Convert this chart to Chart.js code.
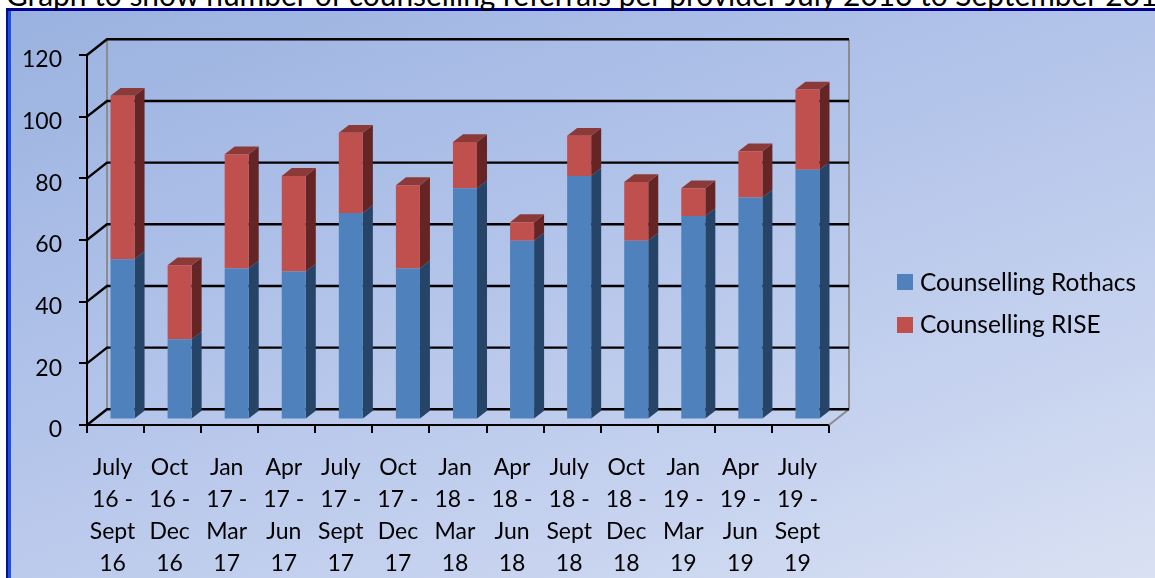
<!DOCTYPE html>
<html>
<head>
<meta charset="utf-8">
<script src="https://cdn.jsdelivr.net/npm/chart.js@4/dist/chart.umd.min.js"></script>
<style>
html,body{margin:0;padding:0;width:1155px;height:578px;overflow:hidden;background:#fff;font-family:Lato,sans-serif;}
#box{position:absolute;left:6px;top:8px;width:1200px;height:620px;
  background:linear-gradient(160deg,#9ab2e0 0%,#b3c4ea 40%,#c7d3ef 70%,#dfe5f4 100%);
  border-top:3px solid #00008b;border-left:2px solid #00128c;box-shadow:inset 3px 0 0 #1f4ee4;}
#title{position:absolute;left:6px;top:-21px;font-size:29.9px;line-height:30px;white-space:nowrap;color:#000;}
canvas{position:absolute;left:0;top:0;}
.lg{position:absolute;left:920px;font-size:24.5px;line-height:28px;color:#000;white-space:nowrap;}
.sw{position:absolute;left:897px;width:16px;height:16px;}
</style>
</head>
<body>
<div id="box"></div>
<div id="title">Graph to show number of counselling referrals per provider July 2016 to September 2019</div>
<canvas id="c" width="1155" height="578"></canvas>
<div class="sw" style="top:274px;background:#4F81BD"></div>
<div class="lg" style="top:268px">Counselling Rothacs</div>
<div class="sw" style="top:317px;background:#C0504D"></div>
<div class="lg" style="top:310px">Counselling RISE</div>
<script>
const categories = [
  ["July","16 -","Sept","16"],["Oct","16 -","Dec","16"],["Jan","17 -","Mar","17"],
  ["Apr","17 -","Jun","17"],["July","17 -","Sept","17"],["Oct","17 -","Dec","17"],
  ["Jan","18 -","Mar","18"],["Apr","18 -","Jun","18"],["July","18 -","Sept","18"],
  ["Oct","18 -","Dec","18"],["Jan","19 -","Mar","19"],["Apr","19 -","Jun","19"],
  ["July","19 -","Sept","19"]
];
const seriesNames = ["Counselling Rothacs","Counselling RISE"];
const rothacs = [52,26,49,48,67,49,75,58,79,58,66,72,81];
const rise    = [53,24,37,31,26,27,15,6,13,19,9,15,26];
const yTicks  = [0,20,40,60,80,100,120];

const frontColors = ["#4F81BD","#C0504D"];
const sideColors  = ["#254468","#652524"];
const topColors   = ["#3a5f8f","#8b3a38"];

const DX = 20, DY = 15.7;      // full depth of the floor
const FRONT = 0.35, DEPTH = 0.5;

const threeD = {
  id:'threeD',
  beforeDatasetsDraw(chart){
    const {ctx, chartArea:a, scales:{x, y}} = chart;
    ctx.save();
    ctx.lineCap = 'butt';
    const y0 = y.getPixelForValue(0), yTop = y.getPixelForValue(120);
    ctx.strokeStyle = '#8c8c8c'; ctx.lineWidth = 2;
    ctx.beginPath();
    ctx.moveTo(a.left+DX, y0-DY); ctx.lineTo(a.left+DX, yTop-DY);
    ctx.moveTo(a.right+DX, y0-DY); ctx.lineTo(a.right+DX, yTop-DY);
    ctx.moveTo(a.right, y0); ctx.lineTo(a.right+DX, y0-DY);
    ctx.stroke();
    ctx.strokeStyle = '#000'; ctx.lineWidth = 2.4;
    ctx.beginPath();
    yTicks.forEach(v => {
      const py = y.getPixelForValue(v);
      ctx.moveTo(a.left, py); ctx.lineTo(a.left+DX, py-DY); ctx.lineTo(a.right+DX, py-DY);
    });
    ctx.stroke();
    ctx.restore();

    ctx.save();
    ctx.translate(DX*FRONT, -DY*FRONT);
    const n = chart.data.datasets.length;
    const dx = DX*DEPTH, dy = DY*DEPTH;
    chart.data.datasets.forEach((ds, di) => {
      const meta = chart.getDatasetMeta(di);
      meta.data.forEach(bar => {
        const p = bar.getProps(['x','y','base','width'], true);
        const l = p.x - p.width/2, r = p.x + p.width/2;
        ctx.fillStyle = sideColors[di];
        ctx.beginPath();
        ctx.moveTo(r, p.y); ctx.lineTo(r+dx, p.y-dy); ctx.lineTo(r+dx, p.base-dy); ctx.lineTo(r, p.base);
        ctx.closePath(); ctx.fill();
        if (di === n-1) {
          ctx.fillStyle = topColors[di];
          ctx.beginPath();
          ctx.moveTo(l, p.y); ctx.lineTo(l+dx, p.y-dy); ctx.lineTo(r+dx, p.y-dy); ctx.lineTo(r, p.y);
          ctx.closePath(); ctx.fill();
        }
      });
    });
  },
  afterDatasetsDraw(chart){ chart.ctx.restore(); }
};

Chart.defaults.font.family = 'Lato, sans-serif';
Chart.defaults.color = '#000';

new Chart(document.getElementById('c'), {
  type:'bar',
  data:{
    labels: categories,
    datasets:[
      {label:seriesNames[0], data:rothacs, backgroundColor:frontColors[0], borderWidth:0},
      {label:seriesNames[1], data:rise, backgroundColor:frontColors[1], borderWidth:0}
    ]
  },
  options:{
    responsive:false, animation:false,
    devicePixelRatio:1,
    layout:{padding:{left:0, top:55, right:326, bottom:0}},
    plugins:{legend:{display:false}, title:{display:false}, tooltip:{enabled:false}},
    datasets:{bar:{categoryPercentage:1, barPercentage:24/57}},
    scales:{
      x:{
        stacked:true,
        grid:{drawOnChartArea:false, drawTicks:true, tickLength:8, color:'#000', lineWidth:2},
        border:{display:true, color:'#000', width:2},
        ticks:{font:{size:23, lineHeight:1.4}, color:'#000', padding:18, labelOffset:-3, maxRotation:0, autoSkip:false},
        afterFit(s){ s.height = 578-425; }
      },
      y:{
        stacked:true, min:0, max:120,
        grid:{drawOnChartArea:false, drawTicks:true, tickLength:8, color:'#000', lineWidth:2},
        border:{display:true, color:'#000', width:2},
        ticks:{stepSize:20, font:{size:23}, color:'#000', padding:17, labelOffset:5},
        afterFit(s){ s.width = 87; }
      }
    }
  },
  plugins:[threeD]
});
</script>
</body>
</html>
